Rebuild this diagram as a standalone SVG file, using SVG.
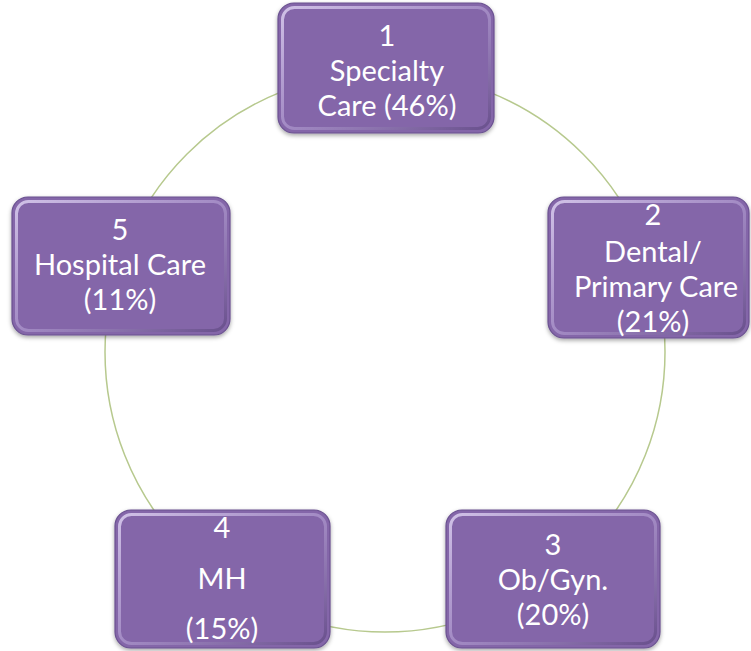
<svg xmlns="http://www.w3.org/2000/svg" width="751" height="651" viewBox="0 0 751 651">
<defs>
<style>
.box{fill:#8466a9;stroke:#6a5190;stroke-width:1.2}
.hl{fill:none;stroke:url(#hlg);stroke-width:3}
.txt{font-family:Lato,"Open Sans","Liberation Sans",sans-serif;font-size:29px;fill:#ffffff;text-anchor:middle}
.ring{fill:none;stroke:#b7c98e;stroke-width:1.5}
</style>
<linearGradient id="hlg" x1="0" y1="0" x2="1" y2="1">
<stop offset="0" stop-color="#d4c6ea" stop-opacity="0.95"/>
<stop offset="0.5" stop-color="#b7a3d6" stop-opacity="0.6"/>
<stop offset="1" stop-color="#5e4781" stop-opacity="0.7"/>
</linearGradient>
<filter id="sh" x="-10%" y="-10%" width="120%" height="130%">
<feDropShadow dx="0" dy="2" stdDeviation="2" flood-color="#000" flood-opacity="0.35"/>
</filter>
</defs>
<rect width="751" height="651" fill="#ffffff"/>
<g id="connectors">
<circle class="ring" cx="385" cy="352" r="280"/>
</g>
<g id="node1">
<rect class="box" x="278" y="3" width="216" height="130" rx="16" filter="url(#sh)"/>
<rect class="hl" x="282.5" y="7.5" width="207" height="121" rx="12"/>
<text class="txt" x="387" y="46">1</text>
<text class="txt" x="387" y="81">Specialty</text>
<text class="txt" x="387" y="116">Care (46%)</text>
</g>
<g id="node2">
<rect class="box" x="548" y="197" width="201" height="141" rx="16" filter="url(#sh)"/>
<rect class="hl" x="552.5" y="201.5" width="192" height="132" rx="12"/>
<text class="txt" x="653" y="225">2</text>
<text class="txt" x="653" y="262">Dental/</text>
<text class="txt" x="656" y="297">Primary Care</text>
<text class="txt" x="653" y="332">(21%)</text>
</g>
<g id="node3">
<rect class="box" x="446" y="510" width="214" height="138" rx="16" filter="url(#sh)"/>
<rect class="hl" x="450.5" y="514.5" width="205" height="129" rx="12"/>
<text class="txt" x="553" y="555">3</text>
<text class="txt" x="553" y="590">Ob/Gyn.</text>
<text class="txt" x="553" y="625">(20%)</text>
</g>
<g id="node4">
<rect class="box" x="115" y="510" width="215" height="138" rx="16" filter="url(#sh)"/>
<rect class="hl" x="119.5" y="514.5" width="206" height="129" rx="12"/>
<text class="txt" x="222" y="538">4</text>
<text class="txt" x="222" y="589">MH</text>
<text class="txt" x="222" y="639">(15%)</text>
</g>
<g id="node5">
<rect class="box" x="12" y="197" width="218" height="138" rx="16" filter="url(#sh)"/>
<rect class="hl" x="16.5" y="201.5" width="209" height="129" rx="12"/>
<text class="txt" x="120" y="240">5</text>
<text class="txt" x="120" y="275">Hospital Care</text>
<text class="txt" x="120" y="310">(11%)</text>
</g>
</svg>
